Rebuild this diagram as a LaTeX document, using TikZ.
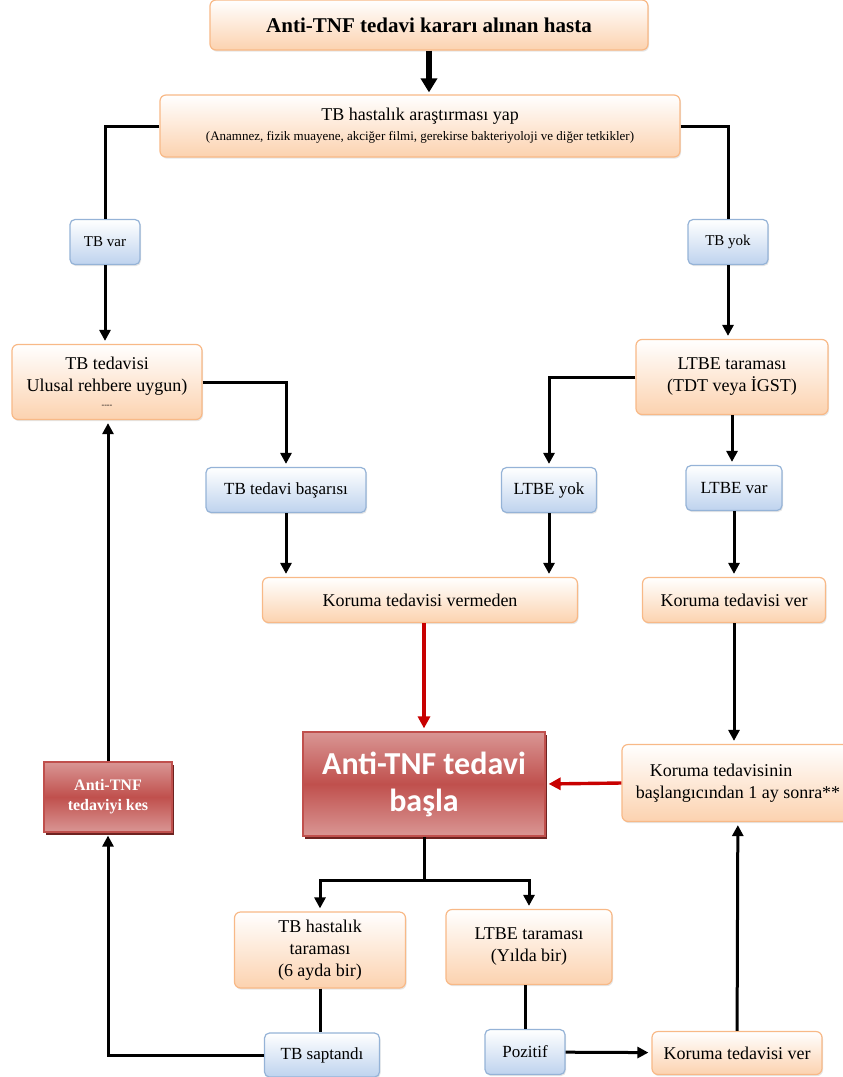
\documentclass[tikz,border=0pt]{standalone}
\usepackage{fontspec}
\setmainfont{Liberation Serif}
\newfontfamily\calibrifont{Carlito}
\usepackage{xcolor}
\definecolor{myorange}{RGB}{248,185,135}
\definecolor{mypeach}{RGB}{252,210,175}
\definecolor{myblueline}{RGB}{149,179,215}
\definecolor{mybluefill}{RGB}{190,211,238}
\definecolor{myred}{RGB}{192,80,77}
\definecolor{myredlight}{RGB}{217,150,148}
\definecolor{myreddark}{RGB}{110,35,33}
\definecolor{myarrowred}{RGB}{200,0,0}
\usepackage{tikz}
\usetikzlibrary{arrows.meta,positioning,calc,shadows}

\begin{document}
\begin{tikzpicture}[x=0.5pt, y=-0.5pt,
  obox/.style={rectangle, draw=myorange, line width=0.6pt, top color=white,
               bottom color=mypeach, rounded corners=3pt, align=center,
               inner sep=1pt, font=\fontsize{9}{11}\selectfont,
               drop shadow={shadow xshift=0.5pt, shadow yshift=-0.8pt, opacity=0.2}},
  bbox/.style={rectangle, draw=myblueline, line width=0.6pt, top color=white,
               bottom color=mybluefill, rounded corners=2.5pt, align=center,
               inner sep=1pt, font=\fontsize{8.5}{10}\selectfont,
               drop shadow={shadow xshift=0.5pt, shadow yshift=-0.8pt, opacity=0.2}},
  rbox/.style={rectangle, draw=myred, line width=0.6pt, top color=myredlight,
               bottom color=myredlight, middle color=myred, align=center,
               inner sep=1pt, text=white,
               drop shadow={shadow xshift=1pt, shadow yshift=-1.5pt, fill=myreddark, opacity=1}},
  plain/.style={draw=black, line width=1.5pt},
  conn/.style={plain, shorten >=1.5pt, -{Triangle[length=5.5pt, width=5.5pt]}},
  redconn/.style={draw=myarrowred, line width=1.7pt, shorten >=1.5pt,
                  -{Triangle[length=6pt, width=6pt]}}
]
  \useasboundingbox (0,0) rectangle (842,1077);
  % top of the chart
  \node[obox, minimum width=219pt, minimum height=25pt, font=\fontsize{10.5}{12}\selectfont\bfseries]
    (title) at (429,25) {Anti-TNF tedavi kararı alınan hasta};
  \node[obox, minimum width=260pt, minimum height=31pt] (tbara) at (420,126)
    {TB hastalık araştırması yap\\[-1pt]{\fontsize{6.5}{7}\selectfont (Anamnez, fizik muayene, akciğer filmi, gerekirse bakteriyoloji ve diğer tetkikler)}};
  \node[bbox, minimum width=35pt, minimum height=22.5pt, font=\fontsize{7.5}{8}\selectfont] (tbvar) at (105,242) {TB var};
  \node[bbox, minimum width=40pt, minimum height=22.5pt, font=\fontsize{7.5}{8}\selectfont] (tbyok) at (728,242) {TB yok};
  \node[obox, minimum width=95pt, minimum height=37.5pt] (tbted) at (107,382)
    {TB tedavisi\\Ulusal rehbere uygun)\\[-3pt]{\fontsize{4}{4}\selectfont -{}-{}-{}-}};
  \node[obox, minimum width=96pt, minimum height=37.5pt] (ltbe) at (732,377)
    {LTBE taraması\\(TDT veya İGST)};
  % middle row
  \node[bbox, minimum width=80pt, minimum height=22.5pt] (basari) at (286,490) {TB tedavi başarısı};
  \node[bbox, minimum width=47.5pt, minimum height=22.5pt] (ltbeyok) at (549,490) {LTBE yok};
  \node[bbox, minimum width=48pt, minimum height=22.5pt] (ltbevar) at (734,488) {LTBE var};
  \node[obox, minimum width=157.5pt, minimum height=22.5pt] (vermeden) at (420,600) {Koruma tedavisi vermeden};
  \node[obox, minimum width=91.5pt, minimum height=22.5pt] (korumar) at (734,600) {Koruma tedavisi ver};
  \node[rbox, minimum width=121pt, minimum height=52pt, font=\calibrifont\fontsize{16}{18.5}\selectfont\bfseries]
    (basla) at (424,784) {Anti-TNF tedavi\\başla};
  \node[obox, minimum width=116pt, minimum height=38.5pt, align=left] (baslangic) at (738,783)
    {\hspace*{7pt}Koruma tedavisinin\\başlangıcından 1 ay sonra**};
  \node[rbox, minimum width=64pt, minimum height=35pt, font=\fontsize{8}{10}\selectfont\bfseries]
    (kes) at (108,797) {Anti-TNF\\tedaviyi kes};
  % bottom row
  \coordinate (fork) at (424,880);
  \node[obox, minimum width=85.5pt, minimum height=38pt] (tbtar) at (320,950)
    {TB hastalık\\taraması\\(6 ayda bir)};
  \node[obox, minimum width=83pt, minimum height=37.5pt] (ltbeyil) at (529,947)
    {LTBE taraması\\(Yılda bir)};
  \node[bbox, minimum width=57.5pt, minimum height=22pt] (saptandi) at (322,1055) {TB saptandı};
  \node[bbox, minimum width=40pt, minimum height=22.5pt] (pozitif) at (525,1052) {Pozitif};
  \node[obox, minimum width=85pt, minimum height=21.5pt] (korumab) at (737,1053) {Koruma tedavisi ver};

  % connectors
  \draw[plain, line width=2.6pt, shorten >=1pt, -{Triangle[length=7pt, width=8pt]}]
    (title.south) -- (title.south |- tbara.north);
  \draw[plain] (tbara.west) -| (tbvar.north);
  \draw[plain] (tbara.east) -| (tbyok.north);
  \draw[conn] (tbvar.south) -- (tbvar.south |- tbted.north);
  \draw[conn] (tbyok.south) -- (tbyok.south |- ltbe.north);
  \draw[conn] (tbted.east) -| (basari.north);
  \draw[conn] (ltbe.west) -| (ltbeyok.north);
  \draw[conn] (ltbe.south) -- (ltbe.south |- ltbevar.north);
  \draw[conn] (basari.south) -- (basari.south |- vermeden.north);
  \draw[conn] (ltbeyok.south) -- (ltbeyok.south |- vermeden.north);
  \draw[conn] (ltbevar) -- (korumar);
  \draw[redconn] (basla.north |- vermeden.south) -- (basla.north);
  \draw[conn] (korumar.south) -- (korumar.south |- baslangic.north);
  \draw[redconn] (baslangic.west) -- (basla.east);
  \draw[conn] (kes.north) -- (kes.north |- tbted.south);
  \draw[plain] (basla.south) -- (fork);
  \draw[conn] (fork) -| (tbtar.north);
  \draw[conn] (fork) -| (ltbeyil.north);
  \draw[plain] (tbtar.south) -- (tbtar.south |- saptandi.north);
  \draw[plain] (pozitif.north |- ltbeyil.south) -- (pozitif.north);
  \draw[conn] (pozitif) -- (korumab);
  \draw[conn] (korumab) -- (baslangic);
  \draw[conn] (saptandi.west) -| (kes.south);
\end{tikzpicture}
\end{document}
